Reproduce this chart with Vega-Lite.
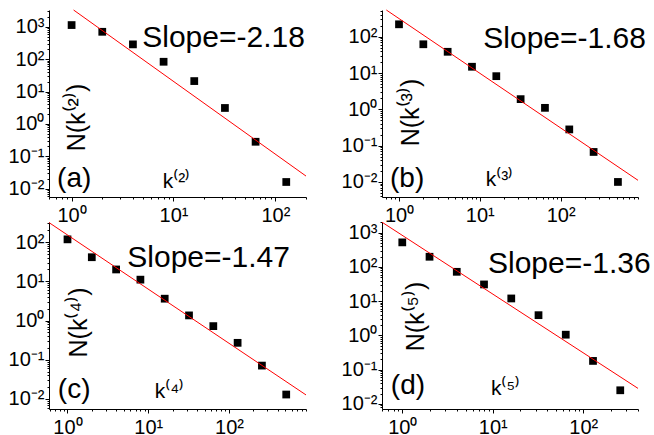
{
  "$schema": "https://vega.github.io/schema/vega-lite/v6.json",
  "background": "white",
  "padding": {"left": 8, "top": 1, "right": 0, "bottom": 0},
  "datasets": {
    "pts": [
      {"panel": "a", "k": 1, "n": 1130}, {"panel": "a", "k": 2, "n": 700}, {"panel": "a", "k": 4, "n": 286}, {"panel": "a", "k": 8, "n": 83},
      {"panel": "a", "k": 16, "n": 21}, {"panel": "a", "k": 32, "n": 3.1}, {"panel": "a", "k": 64, "n": 0.28}, {"panel": "a", "k": 128, "n": 0.016},
      {"panel": "b", "k": 1, "n": 220}, {"panel": "b", "k": 2, "n": 62}, {"panel": "b", "k": 4, "n": 38.5}, {"panel": "b", "k": 8, "n": 14.9},
      {"panel": "b", "k": 16, "n": 8.2}, {"panel": "b", "k": 32, "n": 1.91}, {"panel": "b", "k": 64, "n": 1.1}, {"panel": "b", "k": 128, "n": 0.28},
      {"panel": "b", "k": 256, "n": 0.067}, {"panel": "b", "k": 512, "n": 0.01},
      {"panel": "c", "k": 1, "n": 117}, {"panel": "c", "k": 2, "n": 41}, {"panel": "c", "k": 4, "n": 20}, {"panel": "c", "k": 8, "n": 11},
      {"panel": "c", "k": 16, "n": 3.6}, {"panel": "c", "k": 32, "n": 1.35}, {"panel": "c", "k": 64, "n": 0.72}, {"panel": "c", "k": 128, "n": 0.27},
      {"panel": "c", "k": 256, "n": 0.071}, {"panel": "c", "k": 512, "n": 0.013},
      {"panel": "d", "k": 1, "n": 521}, {"panel": "d", "k": 2, "n": 198}, {"panel": "d", "k": 4, "n": 72}, {"panel": "d", "k": 8, "n": 30.8},
      {"panel": "d", "k": 16, "n": 12}, {"panel": "d", "k": 32, "n": 3.9}, {"panel": "d", "k": 64, "n": 1.05}, {"panel": "d", "k": 128, "n": 0.18},
      {"panel": "d", "k": 256, "n": 0.025}
    ],
    "fit": [
      {"panel": "a", "k": 1.046, "n": 3300}, {"panel": "a", "k": 200, "n": 0.0244},
      {"panel": "b", "k": 0.697, "n": 545}, {"panel": "b", "k": 907, "n": 0.0111},
      {"panel": "c", "k": 0.59, "n": 313}, {"panel": "c", "k": 900, "n": 0.0127},
      {"panel": "d", "k": 0.597, "n": 2025}, {"panel": "d", "k": 402, "n": 0.0284}
    ],
    "slopes": [
      {"panel": "a", "label": "Slope=-2.18", "k": 31, "n": 236},
      {"panel": "b", "label": "Slope=-1.68", "k": 112, "n": 48},
      {"panel": "c", "label": "Slope=-1.47", "k": 56, "n": 23},
      {"panel": "d", "label": "Slope=-1.36", "k": 70, "n": 64.5}
    ],
    "tags": [
      {"panel": "a", "label": "(a)", "k": 1.06, "n": 0.0112},
      {"panel": "b", "label": "(b)", "k": 1.26, "n": 0.00728},
      {"panel": "c", "label": "(c)", "k": 1.21, "n": 0.0105},
      {"panel": "d", "label": "(d)", "k": 1.156, "n": 0.0198}
    ]
  },
  "columns": 2,
  "spacing": {"row": 25, "column": 76},
  "bounds": "flush",
  "concat": [
    {
      "width": 257, "height": 187,
      "encoding": {
        "x": {"field": "k", "type": "quantitative", "scale": {"type": "log", "domain": [0.6, 200], "nice": false},
          "axis": {"values": [0.6,0.7,0.8,0.9,1,2,3,4,5,6,7,8,9,10,20,30,40,50,60,70,80,90,100,200], "title": "k⁽²⁾", "titleX": 127, "titleY": -10}},
        "y": {"field": "n", "type": "quantitative", "scale": {"type": "log", "domain": [0.0055, 3300], "nice": false},
          "axis": {"values": [0.006,0.007,0.008,0.009,0.01,0.02,0.03,0.04,0.05,0.06,0.07,0.08,0.09,0.1,0.2,0.3,0.4,0.5,0.6,0.7,0.8,0.9,1,2,3,4,5,6,7,8,9,10,20,30,40,50,60,70,80,90,100,200,300,400,500,600,700,800,900,1000,2000,3000], "title": "N(k⁽²⁾)", "titleX": 35, "titleY": 107}}
      },
      "layer": [
        {"data": {"name": "pts"}, "transform": [{"filter": "datum.panel == 'a'"}], "mark": {"type": "square", "size": 60, "color": "black", "opacity": 1}},
        {"data": {"name": "fit"}, "transform": [{"filter": "datum.panel == 'a'"}], "mark": {"type": "line", "color": "#ff0000", "strokeWidth": 1}},
        {"data": {"name": "slopes"}, "transform": [{"filter": "datum.panel == 'a'"}], "mark": {"type": "text", "fontSize": 30, "font": "Liberation Sans", "align": "center", "baseline": "alphabetic", "color": "black"}, "encoding": {"text": {"field": "label"}}},
        {"data": {"name": "tags"}, "transform": [{"filter": "datum.panel == 'a'"}], "mark": {"type": "text", "fontSize": 28, "font": "Liberation Sans", "align": "center", "baseline": "alphabetic", "color": "black"}, "encoding": {"text": {"field": "label"}}}
      ]
    },
    {
      "width": 256, "height": 187,
      "encoding": {
        "x": {"field": "k", "type": "quantitative", "scale": {"type": "log", "domain": [0.616, 907], "nice": false},
          "axis": {"values": [0.7,0.8,0.9,1,2,3,4,5,6,7,8,9,10,20,30,40,50,60,70,80,90,100,200,300,400,500,600,700,800,900], "title": "k⁽³⁾", "titleX": 117, "titleY": -12}},
        "y": {"field": "n", "type": "quantitative", "scale": {"type": "log", "domain": [0.00385, 545], "nice": false},
          "axis": {"values": [0.004,0.005,0.006,0.007,0.008,0.009,0.01,0.02,0.03,0.04,0.05,0.06,0.07,0.08,0.09,0.1,0.2,0.3,0.4,0.5,0.6,0.7,0.8,0.9,1,2,3,4,5,6,7,8,9,10,20,30,40,50,60,70,80,90,100,200,300,400,500], "title": "N(k⁽³⁾)", "titleX": 36, "titleY": 102}}
      },
      "layer": [
        {"data": {"name": "pts"}, "transform": [{"filter": "datum.panel == 'b'"}], "mark": {"type": "square", "size": 60, "color": "black", "opacity": 1}},
        {"data": {"name": "fit"}, "transform": [{"filter": "datum.panel == 'b'"}], "mark": {"type": "line", "color": "#ff0000", "strokeWidth": 1}},
        {"data": {"name": "slopes"}, "transform": [{"filter": "datum.panel == 'b'"}], "mark": {"type": "text", "fontSize": 30, "font": "Liberation Sans", "align": "center", "baseline": "alphabetic", "color": "black"}, "encoding": {"text": {"field": "label"}}},
        {"data": {"name": "tags"}, "transform": [{"filter": "datum.panel == 'b'"}], "mark": {"type": "text", "fontSize": 28, "font": "Liberation Sans", "align": "center", "baseline": "alphabetic", "color": "black"}, "encoding": {"text": {"field": "label"}}}
      ]
    },
    {
      "width": 257, "height": 187,
      "encoding": {
        "x": {"field": "k", "type": "quantitative", "scale": {"type": "log", "domain": [0.59, 900], "nice": false},
          "axis": {"values": [0.6,0.7,0.8,0.9,1,2,3,4,5,6,7,8,9,10,20,30,40,50,60,70,80,90,100,200,300,400,500,600,700,800,900], "title": "k⁽⁴⁾", "titleX": 120, "titleY": -12}},
        "y": {"field": "n", "type": "quantitative", "scale": {"type": "log", "domain": [0.00556, 324], "nice": false},
          "axis": {"values": [0.006,0.007,0.008,0.009,0.01,0.02,0.03,0.04,0.05,0.06,0.07,0.08,0.09,0.1,0.2,0.3,0.4,0.5,0.6,0.7,0.8,0.9,1,2,3,4,5,6,7,8,9,10,20,30,40,50,60,70,80,90,100,200,300], "title": "N(k⁽⁴⁾)", "titleX": 37, "titleY": 100}}
      },
      "layer": [
        {"data": {"name": "pts"}, "transform": [{"filter": "datum.panel == 'c'"}], "mark": {"type": "square", "size": 60, "color": "black", "opacity": 1}},
        {"data": {"name": "fit"}, "transform": [{"filter": "datum.panel == 'c'"}], "mark": {"type": "line", "color": "#ff0000", "strokeWidth": 1}},
        {"data": {"name": "slopes"}, "transform": [{"filter": "datum.panel == 'c'"}], "mark": {"type": "text", "fontSize": 30, "font": "Liberation Sans", "align": "center", "baseline": "alphabetic", "color": "black"}, "encoding": {"text": {"field": "label"}}},
        {"data": {"name": "tags"}, "transform": [{"filter": "datum.panel == 'c'"}], "mark": {"type": "text", "fontSize": 28, "font": "Liberation Sans", "align": "center", "baseline": "alphabetic", "color": "black"}, "encoding": {"text": {"field": "label"}}}
      ]
    },
    {
      "width": 256, "height": 187,
      "encoding": {
        "x": {"field": "k", "type": "quantitative", "scale": {"type": "log", "domain": [0.597, 402], "nice": false},
          "axis": {"values": [0.6,0.7,0.8,0.9,1,2,3,4,5,6,7,8,9,10,20,30,40,50,60,70,80,90,100,200,300,400], "title": "k⁽⁵⁾", "titleX": 123, "titleY": -15}},
        "y": {"field": "n", "type": "quantitative", "scale": {"type": "log", "domain": [0.0071, 2050], "nice": false},
          "axis": {"values": [0.008,0.009,0.01,0.02,0.03,0.04,0.05,0.06,0.07,0.08,0.09,0.1,0.2,0.3,0.4,0.5,0.6,0.7,0.8,0.9,1,2,3,4,5,6,7,8,9,10,20,30,40,50,60,70,80,90,100,200,300,400,500,600,700,800,900,1000,2000], "title": "N(k⁽⁵⁾)", "titleX": 41, "titleY": 94}}
      },
      "layer": [
        {"data": {"name": "pts"}, "transform": [{"filter": "datum.panel == 'd'"}], "mark": {"type": "square", "size": 60, "color": "black", "opacity": 1}},
        {"data": {"name": "fit"}, "transform": [{"filter": "datum.panel == 'd'"}], "mark": {"type": "line", "color": "#ff0000", "strokeWidth": 1}},
        {"data": {"name": "slopes"}, "transform": [{"filter": "datum.panel == 'd'"}], "mark": {"type": "text", "fontSize": 30, "font": "Liberation Sans", "align": "center", "baseline": "alphabetic", "color": "black"}, "encoding": {"text": {"field": "label"}}},
        {"data": {"name": "tags"}, "transform": [{"filter": "datum.panel == 'd'"}], "mark": {"type": "text", "fontSize": 28, "font": "Liberation Sans", "align": "center", "baseline": "alphabetic", "color": "black"}, "encoding": {"text": {"field": "label"}}}
      ]
    }
  ],
  "config": {
    "view": {"stroke": null},
    "font": "Liberation Sans",
    "axis": {
      "grid": false,
      "domainColor": "black",
      "domainWidth": 1,
      "tickColor": "black",
      "tickWidth": 1,
      "tickSize": {"condition": {"test": "indexof([0.001,0.01,0.1,1,10,100,1000], datum.value) >= 0", "value": 4}, "value": 2},
      "labelFont": "Liberation Sans",
      "labelFontSize": 20,
      "labelColor": "black",
      "labelOverlap": false,
      "labelBound": false,
      "labelFlush": false,
      "labelExpr": "datum.value == 0.01 ? '10⁻²' : datum.value == 0.1 ? '10⁻¹' : datum.value == 1 ? '10⁰' : datum.value == 10 ? '10¹' : datum.value == 100 ? '10²' : datum.value == 1000 ? '10³' : ''",
      "titleFont": "Liberation Sans",
      "titleFontWeight": "normal",
      "titleColor": "black"
    },
    "axisX": {"labelPadding": 4, "titleFontSize": 21, "titleAngle": 0, "titleAlign": "center", "titleBaseline": "alphabetic"},
    "axisY": {"labelPadding": 1, "titleFontSize": 25, "titleAngle": -90, "titleAlign": "center", "titleBaseline": "alphabetic"}
  }
}
